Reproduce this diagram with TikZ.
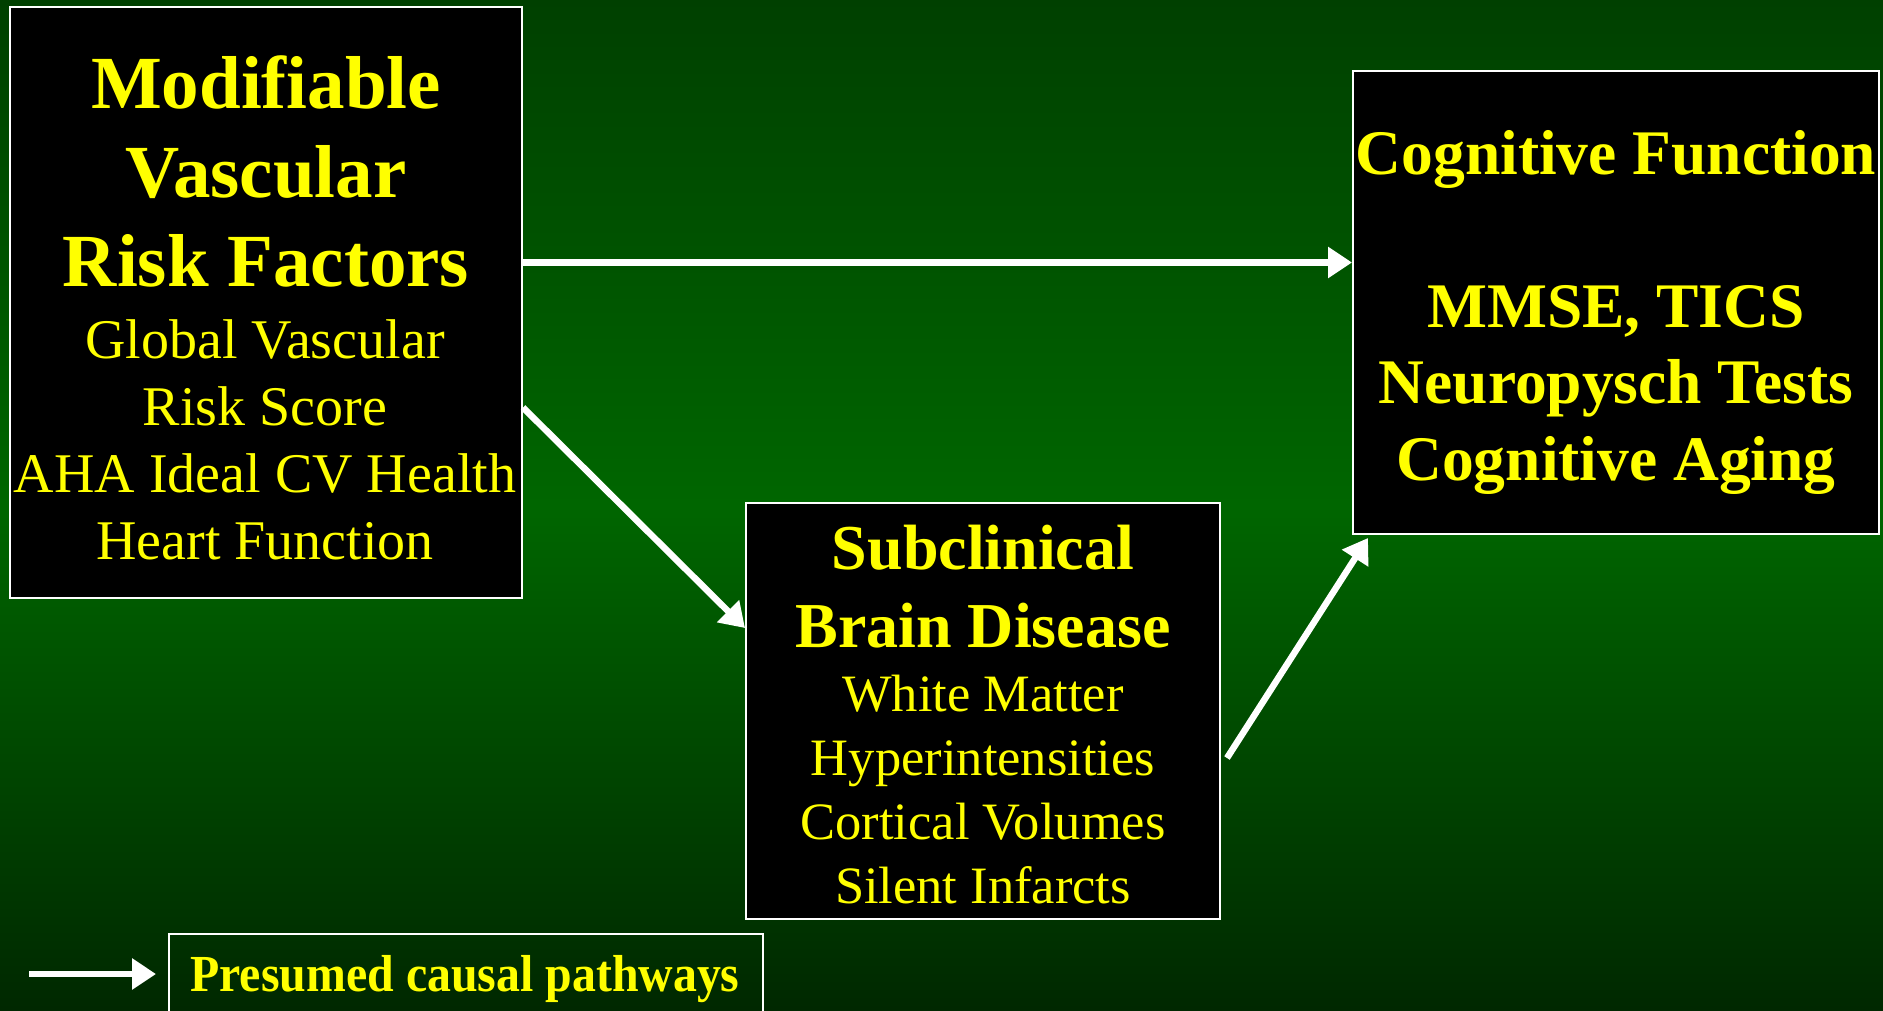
\documentclass[tikz,border=0pt]{standalone}
\usepackage{fontspec}
\usepackage{graphicx}
\setmainfont{Liberation Serif}
\usetikzlibrary{arrows.meta}
\definecolor{slidetop}{RGB}{0,64,0}
\definecolor{slidemid}{RGB}{0,102,0}
\definecolor{slidebot}{RGB}{0,40,0}
\definecolor{boxyellow}{RGB}{255,255,0}

\begin{document}
\begin{tikzpicture}[x=1pt,y=-1pt,
  box/.style={draw=white,line width=2pt,fill=black,inner sep=0pt},
  heading/.style={text=boxyellow,align=center,inner sep=0pt,font=\bfseries},
  items/.style={text=boxyellow,align=center,inner sep=0pt},
  flow/.style={draw=white,line width=6.5pt,-{Triangle[length=24pt,width=30pt]}}]
\clip (0,0) rectangle (1883,1010);
\shade[top color=slidetop,bottom color=slidebot,middle color=slidemid] (0,0) rectangle (1883,1010);

\node[box,minimum width=512pt,minimum height=591pt] (risk) at (266,302.5) {};
\node[heading,font=\fontsize{75}{89}\selectfont\bfseries] (riskhead) at (266,171) {Modifiable\\Vascular\\Risk Factors};
\node[items,font=\fontsize{56}{67}\selectfont] (risklist) at (265,440) {Global Vascular\\Risk Score\\AHA Ideal CV Health\\Heart Function};

\node[box,minimum width=526pt,minimum height=463pt] (cog) at (1616,302.5) {};
\node[heading,font=\fontsize{63.5}{76.5}\selectfont\bfseries] (coghead) at (1616,312) {Cognitive Function\\[76.5pt]MMSE, TICS\\Neuropysch Tests\\Cognitive Aging};

\node[box,minimum width=474pt,minimum height=416pt] (sub) at (983,711) {};
\node[heading,font=\fontsize{64}{78}\selectfont\bfseries] (subhead) at (983,587) {Subclinical\\Brain Disease};
\node[items,font=\fontsize{52.5}{64}\selectfont] (sublist) at (983,790) {White Matter\\Hyperintensities\\Cortical Volumes\\Silent Infarcts};

\draw[flow] ([yshift=40pt]risk.east) -- ([yshift=40pt]cog.west);
\draw[flow] ([yshift=-105pt]risk.east) -- ([yshift=83pt]sub.west);
\draw[flow] ([shift={(6pt,-47pt)}]sub.east) -- ([shift={(16pt,-3pt)}]cog.south west);

\node[draw=white,line width=2pt,minimum width=594pt,minimum height=96pt,inner sep=0pt] (legend) at (466,982) {};
\node[heading,font=\fontsize{52}{60}\selectfont\bfseries] (legendtext) at (465,979) {\scalebox{0.92}[1]{Presumed causal pathways}};
\coordinate (legstart) at (29,974);
\draw[flow] (legstart) -- ([xshift=-12pt]legend.west |- legstart);
\end{tikzpicture}
\end{document}
